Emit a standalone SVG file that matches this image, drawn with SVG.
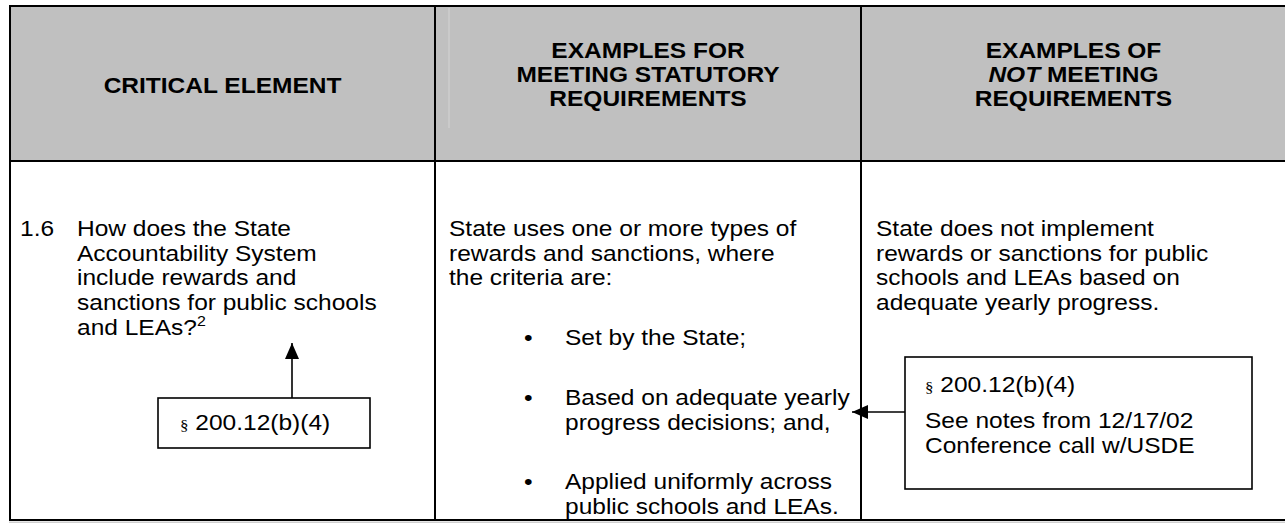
<svg xmlns="http://www.w3.org/2000/svg" width="1285" height="523" viewBox="0 0 1285 523">
<defs>
<style>
.t{font-family:"Liberation Sans",Arial,sans-serif;font-size:21.5px;fill:#000}
.h{font-weight:bold;text-anchor:middle}
.sec{font-family:"Liberation Serif","Times New Roman",serif;font-size:15px}
.grid{stroke:#000;stroke-width:2;fill:none}
.box{stroke:#000;stroke-width:1.6;fill:#fff}
.conn{stroke:#000;stroke-width:1.6;fill:none}
</style>
<marker id="arr" viewBox="0 0 16 14" refX="16" refY="7" markerWidth="16" markerHeight="14" markerUnits="userSpaceOnUse" orient="auto">
<path d="M0,0 L16,7 L0,14 z" fill="#000"/>
</marker>
</defs>
<rect x="0" y="0" width="1285" height="523" fill="#fff"/>
<g id="table">
<rect x="10" y="6" width="1276" height="155" fill="#C0C0C0"/>
<line x1="449" y1="8" x2="449" y2="128" stroke="#d4d4d4" stroke-width="1"/>
<rect x="9" y="521.5" width="1276" height="1.5" fill="#cfcfcf"/>
<line class="grid" x1="9" y1="6" x2="1286" y2="6"/>
<line class="grid" x1="9" y1="161" x2="1286" y2="161"/>
<line class="grid" x1="9" y1="520" x2="1286" y2="520"/>
<line class="grid" x1="10" y1="5" x2="10" y2="521"/>
<line class="grid" x1="435" y1="6" x2="435" y2="520"/>
<line class="grid" x1="861" y1="6" x2="861" y2="520"/>
<line class="grid" x1="1286" y1="6" x2="1286" y2="520"/>
</g>
<g id="header-critical-element">
<text class="t h" transform="matrix(1.14 0 0 1 222.5 93)">CRITICAL ELEMENT</text>
</g>
<g id="header-meeting">
<text class="t h" transform="matrix(1.14 0 0 1 648 58)">EXAMPLES FOR</text>
<text class="t h" transform="matrix(1.14 0 0 1 648 82)">MEETING STATUTORY</text>
<text class="t h" transform="matrix(1.14 0 0 1 648 106)">REQUIREMENTS</text>
</g>
<g id="header-not-meeting">
<text class="t h" transform="matrix(1.14 0 0 1 1073.5 58)">EXAMPLES OF</text>
<text class="t h" transform="matrix(1.14 0 0 1 1073.5 82)"><tspan font-style="italic">NOT</tspan> MEETING</text>
<text class="t h" transform="matrix(1.14 0 0 1 1073.5 106)">REQUIREMENTS</text>
</g>
<g id="cell-critical-element">
<text class="t" transform="matrix(1.14 0 0 1 20 236)">1.6</text>
<text class="t" transform="matrix(1.14 0 0 1 77 236)">How does the State</text>
<text class="t" transform="matrix(1.14 0 0 1 77 260.7)">Accountability System</text>
<text class="t" transform="matrix(1.14 0 0 1 77 285.4)">include rewards and</text>
<text class="t" transform="matrix(1.14 0 0 1 77 310.1)">sanctions for public schools</text>
<text class="t" transform="matrix(1.14 0 0 1 77 334.8)">and LEAs?<tspan font-size="14" dy="-9">2</tspan></text>
</g>
<g id="cell-meeting">
<text class="t" transform="matrix(1.14 0 0 1 449 236)">State uses one or more types of</text>
<text class="t" transform="matrix(1.14 0 0 1 449 260.7)">rewards and sanctions, where</text>
<text class="t" transform="matrix(1.14 0 0 1 449 285.4)">the criteria are:</text>
<text class="t" transform="matrix(1.14 0 0 1 524 345.1)">•</text>
<text class="t" transform="matrix(1.14 0 0 1 565 345.1)">Set by the State;</text>
<text class="t" transform="matrix(1.14 0 0 1 524 404.8)">•</text>
<text class="t" transform="matrix(1.14 0 0 1 565 404.8)">Based on adequate yearly</text>
<text class="t" transform="matrix(1.14 0 0 1 565 429.5)">progress decisions; and,</text>
<text class="t" transform="matrix(1.14 0 0 1 524 489.3)">•</text>
<text class="t" transform="matrix(1.14 0 0 1 565 489.3)">Applied uniformly across</text>
<text class="t" transform="matrix(1.14 0 0 1 565 514)">public schools and LEAs.</text>
</g>
<g id="cell-not-meeting">
<text class="t" transform="matrix(1.14 0 0 1 876 236)">State does not implement</text>
<text class="t" transform="matrix(1.14 0 0 1 876 260.7)">rewards or sanctions for public</text>
<text class="t" transform="matrix(1.14 0 0 1 876 285.4)">schools and LEAs based on</text>
<text class="t" transform="matrix(1.14 0 0 1 876 310.1)">adequate yearly progress.</text>
</g>
<g id="ref-box-left">
<rect class="box" x="158" y="398" width="212" height="50"/>
<text class="t" transform="matrix(1.14 0 0 1 180 430)"><tspan class="sec">§</tspan> 200.12(b)(4)</text>
</g>
<g id="ref-box-right">
<rect class="box" x="905" y="357" width="347" height="132"/>
<text class="t" transform="matrix(1.14 0 0 1 925 392)"><tspan class="sec">§</tspan> 200.12(b)(4)</text>
<text class="t" transform="matrix(1.14 0 0 1 925 428)">See notes from 12/17/02</text>
<text class="t" transform="matrix(1.14 0 0 1 925 452.6)">Conference call w/USDE</text>
</g>
<g id="connectors">
<line class="conn" x1="292" y1="398" x2="292" y2="343" marker-end="url(#arr)"/>
<line class="conn" x1="905" y1="412" x2="852" y2="412" marker-end="url(#arr)"/>
</g>
</svg>
